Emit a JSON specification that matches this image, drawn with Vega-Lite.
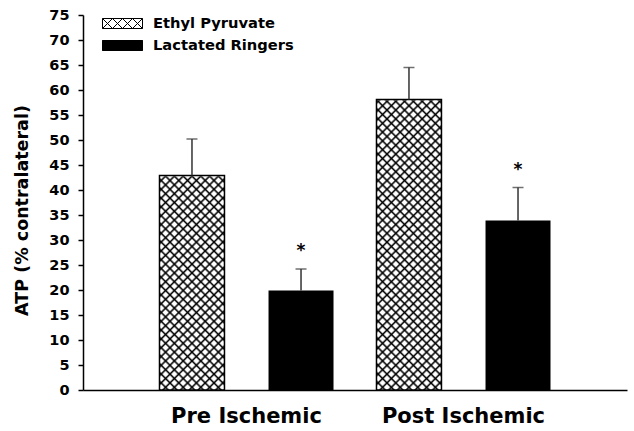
{
  "$schema": "https://vega.github.io/schema/vega-lite/v6.json",
  "width": 544,
  "height": 375,
  "autosize": {"type": "none"},
  "padding": {"left": 83, "top": 15, "right": 7, "bottom": 41},
  "background": "white",
  "config": {"view": {"stroke": null}, "font": "DejaVu Sans"},
  "data": {
    "values": [
      {"condition": "Pre Ischemic", "group": "Ethyl Pyruvate", "atp": 42.9, "err": 50.2, "sig": ""},
      {"condition": "Pre Ischemic", "group": "Lactated Ringers", "atp": 19.9, "err": 24.2, "sig": "*"},
      {"condition": "Post Ischemic", "group": "Ethyl Pyruvate", "atp": 58.1, "err": 64.5, "sig": ""},
      {"condition": "Post Ischemic", "group": "Lactated Ringers", "atp": 33.9, "err": 40.5, "sig": "*"}
    ]
  },
  "encoding": {
    "x": {
      "field": "condition", "type": "nominal", "sort": ["Pre Ischemic", "Post Ischemic"],
      "scale": {"paddingInner": 0.198, "paddingOuter": 0.3525},
      "axis": {"title": null, "ticks": false, "tickSize": 0, "labelAngle": 0, "labelFont": "DejaVu Sans", "labelFontSize": 21, "labelFontWeight": "bold", "labelColor": "#000", "labelPadding": 15, "domainColor": "#000", "domainWidth": 1.5}
    },
    "xOffset": {
      "field": "group", "type": "nominal", "sort": ["Ethyl Pyruvate", "Lactated Ringers"],
      "scale": {"paddingInner": 0.404, "paddingOuter": 0}
    },
    "y": {
      "field": "atp", "type": "quantitative", "title": "ATP (% contralateral)",
      "scale": {"domain": [0, 75], "nice": false},
      "axis": {"values": [0, 5, 10, 15, 20, 25, 30, 35, 40, 45, 50, 55, 60, 65, 70, 75], "grid": false, "domainColor": "#000", "domainWidth": 1.5, "tickColor": "#000", "tickWidth": 1.5, "tickSize": 5, "labelFont": "DejaVu Sans", "labelFontSize": 14.5, "labelFontWeight": "bold", "labelColor": "#000", "labelPadding": 9, "titleFont": "DejaVu Sans", "titleFontSize": 17.5, "titleFontWeight": "bold", "titleColor": "#000", "titleX": -52, "titleY": 195}
    }
  },
  "layer": [
    {
      "transform": [{"filter": "datum.group === 'Lactated Ringers'"}],
      "mark": {"type": "bar"},
      "encoding": {
        "fill": {
          "field": "group", "type": "nominal",
          "scale": {"domain": ["Ethyl Pyruvate", "Lactated Ringers"], "range": ["#ffffff", "#000000"]},
          "legend": {
            "title": null, "orient": "none", "legendX": 29, "legendY": -2, "direction": "vertical", "padding": 0, "rowPadding": 4,
            "symbolType": "M-2,-0.5H2V0.5H-2Z M-2,-0.5L-1,0.5 M-1,-0.5L-2,0.5 M-1,-0.5L0,0.5 M0,-0.5L-1,0.5 M0,-0.5L1,0.5 M1,-0.5L0,0.5 M1,-0.5L2,0.5 M2,-0.5L1,0.5",
            "symbolSize": 400, "symbolStrokeColor": "#000", "symbolStrokeWidth": 1, "symbolOpacity": 1,
            "labelFont": "DejaVu Sans", "labelFontSize": 14.7, "labelFontWeight": "bold", "labelColor": "#000", "labelOffset": 20,
            "encode": {"symbols": {"update": {"stroke": {"value": "#000"}, "strokeWidth": {"value": 1}}}}
          }
        }
      }
    },
    {
      "transform": [{"filter": "datum.group === 'Ethyl Pyruvate'"}],
      "mark": {"type": "bar", "fill": {"gradient": "linear", "x1": 0, "y1": 0, "x2": 0.1974, "y2": 1.1391, "stops": [
        {"offset":0,"color":"#000"},{"offset":0.005,"color":"#fff"},{"offset":0.015,"color":"#fff"},{"offset":0.02,"color":"#000"},{"offset":0.025,"color":"#fff"},{"offset":0.035,"color":"#fff"},{"offset":0.04,"color":"#000"},{"offset":0.045,"color":"#fff"},{"offset":0.055,"color":"#fff"},{"offset":0.06,"color":"#000"},{"offset":0.065,"color":"#fff"},{"offset":0.075,"color":"#fff"},{"offset":0.08,"color":"#000"},{"offset":0.085,"color":"#fff"},{"offset":0.095,"color":"#fff"},
        {"offset":0.1,"color":"#000"},{"offset":0.105,"color":"#fff"},{"offset":0.115,"color":"#fff"},{"offset":0.12,"color":"#000"},{"offset":0.125,"color":"#fff"},{"offset":0.135,"color":"#fff"},{"offset":0.14,"color":"#000"},{"offset":0.145,"color":"#fff"},{"offset":0.155,"color":"#fff"},{"offset":0.16,"color":"#000"},{"offset":0.165,"color":"#fff"},{"offset":0.175,"color":"#fff"},{"offset":0.18,"color":"#000"},{"offset":0.185,"color":"#fff"},{"offset":0.195,"color":"#fff"},
        {"offset":0.2,"color":"#000"},{"offset":0.205,"color":"#fff"},{"offset":0.215,"color":"#fff"},{"offset":0.22,"color":"#000"},{"offset":0.225,"color":"#fff"},{"offset":0.235,"color":"#fff"},{"offset":0.24,"color":"#000"},{"offset":0.245,"color":"#fff"},{"offset":0.255,"color":"#fff"},{"offset":0.26,"color":"#000"},{"offset":0.265,"color":"#fff"},{"offset":0.275,"color":"#fff"},{"offset":0.28,"color":"#000"},{"offset":0.285,"color":"#fff"},{"offset":0.295,"color":"#fff"},
        {"offset":0.3,"color":"#000"},{"offset":0.305,"color":"#fff"},{"offset":0.315,"color":"#fff"},{"offset":0.32,"color":"#000"},{"offset":0.325,"color":"#fff"},{"offset":0.335,"color":"#fff"},{"offset":0.34,"color":"#000"},{"offset":0.345,"color":"#fff"},{"offset":0.355,"color":"#fff"},{"offset":0.36,"color":"#000"},{"offset":0.365,"color":"#fff"},{"offset":0.375,"color":"#fff"},{"offset":0.38,"color":"#000"},{"offset":0.385,"color":"#fff"},{"offset":0.395,"color":"#fff"},
        {"offset":0.4,"color":"#000"},{"offset":0.405,"color":"#fff"},{"offset":0.415,"color":"#fff"},{"offset":0.42,"color":"#000"},{"offset":0.425,"color":"#fff"},{"offset":0.435,"color":"#fff"},{"offset":0.44,"color":"#000"},{"offset":0.445,"color":"#fff"},{"offset":0.455,"color":"#fff"},{"offset":0.46,"color":"#000"},{"offset":0.465,"color":"#fff"},{"offset":0.475,"color":"#fff"},{"offset":0.48,"color":"#000"},{"offset":0.485,"color":"#fff"},{"offset":0.495,"color":"#fff"},
        {"offset":0.5,"color":"#000"},{"offset":0.505,"color":"#fff"},{"offset":0.515,"color":"#fff"},{"offset":0.52,"color":"#000"},{"offset":0.525,"color":"#fff"},{"offset":0.535,"color":"#fff"},{"offset":0.54,"color":"#000"},{"offset":0.545,"color":"#fff"},{"offset":0.555,"color":"#fff"},{"offset":0.56,"color":"#000"},{"offset":0.565,"color":"#fff"},{"offset":0.575,"color":"#fff"},{"offset":0.58,"color":"#000"},{"offset":0.585,"color":"#fff"},{"offset":0.595,"color":"#fff"},
        {"offset":0.6,"color":"#000"},{"offset":0.605,"color":"#fff"},{"offset":0.615,"color":"#fff"},{"offset":0.62,"color":"#000"},{"offset":0.625,"color":"#fff"},{"offset":0.635,"color":"#fff"},{"offset":0.64,"color":"#000"},{"offset":0.645,"color":"#fff"},{"offset":0.655,"color":"#fff"},{"offset":0.66,"color":"#000"},{"offset":0.665,"color":"#fff"},{"offset":0.675,"color":"#fff"},{"offset":0.68,"color":"#000"},{"offset":0.685,"color":"#fff"},{"offset":0.695,"color":"#fff"},
        {"offset":0.7,"color":"#000"},{"offset":0.705,"color":"#fff"},{"offset":0.715,"color":"#fff"},{"offset":0.72,"color":"#000"},{"offset":0.725,"color":"#fff"},{"offset":0.735,"color":"#fff"},{"offset":0.74,"color":"#000"},{"offset":0.745,"color":"#fff"},{"offset":0.755,"color":"#fff"},{"offset":0.76,"color":"#000"},{"offset":0.765,"color":"#fff"},{"offset":0.775,"color":"#fff"},{"offset":0.78,"color":"#000"},{"offset":0.785,"color":"#fff"},{"offset":0.795,"color":"#fff"},
        {"offset":0.8,"color":"#000"},{"offset":0.805,"color":"#fff"},{"offset":0.815,"color":"#fff"},{"offset":0.82,"color":"#000"},{"offset":0.825,"color":"#fff"},{"offset":0.835,"color":"#fff"},{"offset":0.84,"color":"#000"},{"offset":0.845,"color":"#fff"},{"offset":0.855,"color":"#fff"},{"offset":0.86,"color":"#000"},{"offset":0.865,"color":"#fff"},{"offset":0.875,"color":"#fff"},{"offset":0.88,"color":"#000"},{"offset":0.885,"color":"#fff"},{"offset":0.895,"color":"#fff"},
        {"offset":0.9,"color":"#000"},{"offset":0.905,"color":"#fff"},{"offset":0.915,"color":"#fff"},{"offset":0.92,"color":"#000"},{"offset":0.925,"color":"#fff"},{"offset":0.935,"color":"#fff"},{"offset":0.94,"color":"#000"},{"offset":0.945,"color":"#fff"},{"offset":0.955,"color":"#fff"},{"offset":0.96,"color":"#000"},{"offset":0.965,"color":"#fff"},{"offset":0.975,"color":"#fff"},{"offset":0.98,"color":"#000"},{"offset":0.985,"color":"#fff"},{"offset":0.995,"color":"#fff"},
        {"offset":1,"color":"#000"}
      ]}},
      "encoding": {"y": {"datum": 75, "type": "quantitative"}, "y2": {"datum": 0}}
    },
    {
      "transform": [{"filter": "datum.group === 'Ethyl Pyruvate'"}],
      "mark": {"type": "bar", "fill": {"gradient": "linear", "x1": 1, "y1": 0, "x2": 0.8026, "y2": 1.1391, "stops": [
        {"offset":0,"color":"#000"},{"offset":0.005,"color":"transparent"},{"offset":0.015,"color":"transparent"},{"offset":0.02,"color":"#000"},{"offset":0.025,"color":"transparent"},{"offset":0.035,"color":"transparent"},{"offset":0.04,"color":"#000"},{"offset":0.045,"color":"transparent"},{"offset":0.055,"color":"transparent"},{"offset":0.06,"color":"#000"},{"offset":0.065,"color":"transparent"},{"offset":0.075,"color":"transparent"},{"offset":0.08,"color":"#000"},{"offset":0.085,"color":"transparent"},{"offset":0.095,"color":"transparent"},
        {"offset":0.1,"color":"#000"},{"offset":0.105,"color":"transparent"},{"offset":0.115,"color":"transparent"},{"offset":0.12,"color":"#000"},{"offset":0.125,"color":"transparent"},{"offset":0.135,"color":"transparent"},{"offset":0.14,"color":"#000"},{"offset":0.145,"color":"transparent"},{"offset":0.155,"color":"transparent"},{"offset":0.16,"color":"#000"},{"offset":0.165,"color":"transparent"},{"offset":0.175,"color":"transparent"},{"offset":0.18,"color":"#000"},{"offset":0.185,"color":"transparent"},{"offset":0.195,"color":"transparent"},
        {"offset":0.2,"color":"#000"},{"offset":0.205,"color":"transparent"},{"offset":0.215,"color":"transparent"},{"offset":0.22,"color":"#000"},{"offset":0.225,"color":"transparent"},{"offset":0.235,"color":"transparent"},{"offset":0.24,"color":"#000"},{"offset":0.245,"color":"transparent"},{"offset":0.255,"color":"transparent"},{"offset":0.26,"color":"#000"},{"offset":0.265,"color":"transparent"},{"offset":0.275,"color":"transparent"},{"offset":0.28,"color":"#000"},{"offset":0.285,"color":"transparent"},{"offset":0.295,"color":"transparent"},
        {"offset":0.3,"color":"#000"},{"offset":0.305,"color":"transparent"},{"offset":0.315,"color":"transparent"},{"offset":0.32,"color":"#000"},{"offset":0.325,"color":"transparent"},{"offset":0.335,"color":"transparent"},{"offset":0.34,"color":"#000"},{"offset":0.345,"color":"transparent"},{"offset":0.355,"color":"transparent"},{"offset":0.36,"color":"#000"},{"offset":0.365,"color":"transparent"},{"offset":0.375,"color":"transparent"},{"offset":0.38,"color":"#000"},{"offset":0.385,"color":"transparent"},{"offset":0.395,"color":"transparent"},
        {"offset":0.4,"color":"#000"},{"offset":0.405,"color":"transparent"},{"offset":0.415,"color":"transparent"},{"offset":0.42,"color":"#000"},{"offset":0.425,"color":"transparent"},{"offset":0.435,"color":"transparent"},{"offset":0.44,"color":"#000"},{"offset":0.445,"color":"transparent"},{"offset":0.455,"color":"transparent"},{"offset":0.46,"color":"#000"},{"offset":0.465,"color":"transparent"},{"offset":0.475,"color":"transparent"},{"offset":0.48,"color":"#000"},{"offset":0.485,"color":"transparent"},{"offset":0.495,"color":"transparent"},
        {"offset":0.5,"color":"#000"},{"offset":0.505,"color":"transparent"},{"offset":0.515,"color":"transparent"},{"offset":0.52,"color":"#000"},{"offset":0.525,"color":"transparent"},{"offset":0.535,"color":"transparent"},{"offset":0.54,"color":"#000"},{"offset":0.545,"color":"transparent"},{"offset":0.555,"color":"transparent"},{"offset":0.56,"color":"#000"},{"offset":0.565,"color":"transparent"},{"offset":0.575,"color":"transparent"},{"offset":0.58,"color":"#000"},{"offset":0.585,"color":"transparent"},{"offset":0.595,"color":"transparent"},
        {"offset":0.6,"color":"#000"},{"offset":0.605,"color":"transparent"},{"offset":0.615,"color":"transparent"},{"offset":0.62,"color":"#000"},{"offset":0.625,"color":"transparent"},{"offset":0.635,"color":"transparent"},{"offset":0.64,"color":"#000"},{"offset":0.645,"color":"transparent"},{"offset":0.655,"color":"transparent"},{"offset":0.66,"color":"#000"},{"offset":0.665,"color":"transparent"},{"offset":0.675,"color":"transparent"},{"offset":0.68,"color":"#000"},{"offset":0.685,"color":"transparent"},{"offset":0.695,"color":"transparent"},
        {"offset":0.7,"color":"#000"},{"offset":0.705,"color":"transparent"},{"offset":0.715,"color":"transparent"},{"offset":0.72,"color":"#000"},{"offset":0.725,"color":"transparent"},{"offset":0.735,"color":"transparent"},{"offset":0.74,"color":"#000"},{"offset":0.745,"color":"transparent"},{"offset":0.755,"color":"transparent"},{"offset":0.76,"color":"#000"},{"offset":0.765,"color":"transparent"},{"offset":0.775,"color":"transparent"},{"offset":0.78,"color":"#000"},{"offset":0.785,"color":"transparent"},{"offset":0.795,"color":"transparent"},
        {"offset":0.8,"color":"#000"},{"offset":0.805,"color":"transparent"},{"offset":0.815,"color":"transparent"},{"offset":0.82,"color":"#000"},{"offset":0.825,"color":"transparent"},{"offset":0.835,"color":"transparent"},{"offset":0.84,"color":"#000"},{"offset":0.845,"color":"transparent"},{"offset":0.855,"color":"transparent"},{"offset":0.86,"color":"#000"},{"offset":0.865,"color":"transparent"},{"offset":0.875,"color":"transparent"},{"offset":0.88,"color":"#000"},{"offset":0.885,"color":"transparent"},{"offset":0.895,"color":"transparent"},
        {"offset":0.9,"color":"#000"},{"offset":0.905,"color":"transparent"},{"offset":0.915,"color":"transparent"},{"offset":0.92,"color":"#000"},{"offset":0.925,"color":"transparent"},{"offset":0.935,"color":"transparent"},{"offset":0.94,"color":"#000"},{"offset":0.945,"color":"transparent"},{"offset":0.955,"color":"transparent"},{"offset":0.96,"color":"#000"},{"offset":0.965,"color":"transparent"},{"offset":0.975,"color":"transparent"},{"offset":0.98,"color":"#000"},{"offset":0.985,"color":"transparent"},{"offset":0.995,"color":"transparent"},
        {"offset":1,"color":"#000"}
      ]}},
      "encoding": {"y": {"datum": 75, "type": "quantitative"}, "y2": {"datum": 0}}
    },
    {
      "transform": [{"filter": "datum.group === 'Ethyl Pyruvate'"}],
      "mark": {"type": "bar", "fill": "#ffffff", "stroke": "#ffffff", "strokeWidth": 1.5},
      "encoding": {"y2": {"datum": 75}}
    },
    {
      "transform": [{"filter": "datum.group === 'Ethyl Pyruvate'"}],
      "mark": {"type": "bar", "fillOpacity": 0, "stroke": "#000", "strokeWidth": 1.5}
    },
    {
      "mark": {"type": "rule", "color": "#333", "strokeWidth": 1.5},
      "encoding": {"y2": {"field": "err"}}
    },
    {
      "mark": {"type": "tick", "color": "#333", "size": 11, "thickness": 1.5},
      "encoding": {"y": {"field": "err", "type": "quantitative", "title": "ATP (% contralateral)"}}
    },
    {
      "transform": [{"filter": "datum.sig === '*'"}],
      "mark": {"type": "text", "font": "DejaVu Sans", "fontSize": 17, "fontWeight": "bold", "baseline": "alphabetic", "dy": -13, "color": "#000"},
      "encoding": {"y": {"field": "err", "type": "quantitative", "title": "ATP (% contralateral)"}, "text": {"field": "sig"}}
    }
  ]
}
